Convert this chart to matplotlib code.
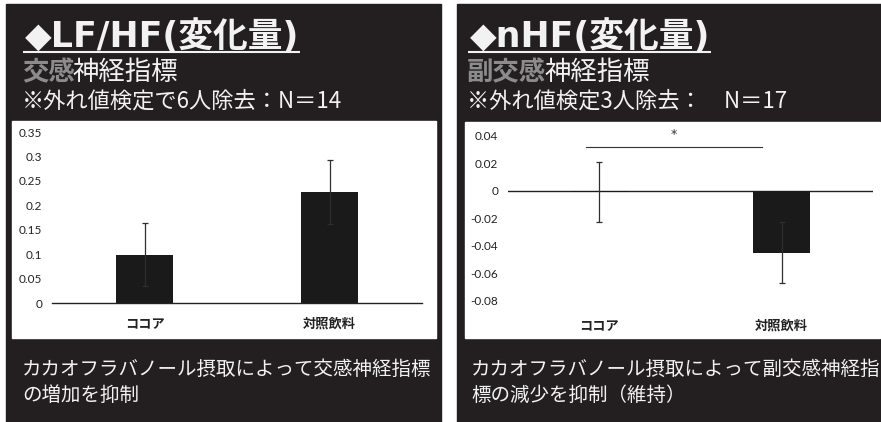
import matplotlib
matplotlib.use("Agg")
import matplotlib.pyplot as plt
from matplotlib.patches import Rectangle

plt.rcParams['font.family'] = ['Noto Sans CJK JP', 'DejaVu Sans']

BG = '#231f20'
FG = '#f2f2f2'
GRAY = '#8c8c8c'
BAR = '#1a1a1a'

W, H = 881, 422

# データ
categories = ['ココア', '対照飲料']

lfhf_mean = [0.099, 0.227]
lfhf_err = [0.065, 0.065]
lfhf_ticks = [0, 0.05, 0.1, 0.15, 0.2, 0.25, 0.3, 0.35]
lfhf_labels = ['0', '0.05', '0.1', '0.15', '0.2', '0.25', '0.3', '0.35']

nhf_mean = [-0.001, -0.045]
nhf_err = [0.022, 0.022]
nhf_ticks = [-0.08, -0.06, -0.04, -0.02, 0, 0.02, 0.04]
nhf_labels = ['-0.08', '-0.06', '-0.04', '-0.02', '0', '0.02', '0.04']

# 有意差の表示 (ココア vs 対照飲料)
sig_x = [-0.07, 0.89]
sig_y = 0.032
sig_label = '*'

fig = plt.figure(figsize=(W / 100, H / 100), dpi=100)
fig.patch.set_facecolor('white')

bg = fig.add_axes([0, 0, 1, 1])
bg.set_xlim(0, W)
bg.set_ylim(H, 0)
bg.axis('off')

# 黒いパネルと白いグラフ枠
bg.add_patch(Rectangle((6, 4), 435, 418, color=BG))
bg.add_patch(Rectangle((457, 4), 424, 418, color=BG))
bg.add_patch(Rectangle((12, 121), 424, 217, color='white'))
bg.add_patch(Rectangle((465, 122), 415, 216, color='white'))


def px_axes(x0, y0, x1, y1):
    return fig.add_axes([x0 / W, 1 - y1 / H, (x1 - x0) / W, (y1 - y0) / H])


def header(x, title, gray_part, rest, note):
    t = bg.text(x, 47, title, color=FG, fontsize=25, fontweight='bold', va='baseline',
                family=['DejaVu Sans', 'Noto Sans CJK JP'])
    fig.canvas.draw()
    bb = t.get_window_extent().transformed(bg.transData.inverted())
    bg.plot([bb.x0 - 2, bb.x1 + 1], [52, 52], color=FG, lw=1.5, solid_capstyle='butt')

    g = bg.text(x - 3, 80, gray_part, color=GRAY, fontsize=19, fontweight='bold', va='baseline')
    fig.canvas.draw()
    gb = g.get_window_extent().transformed(bg.transData.inverted())
    bg.text(gb.x1 - 2, 80, rest, color=FG, fontsize=19, va='baseline')

    bg.text(x - 3, 108, note, color=FG, fontsize=16, va='baseline')


header(25, '◆LF/HF(変化量)', '交感', '神経指標', '※外れ値検定で6人除去：N＝14')
header(470, '◆nHF(変化量)', '副交感', '神経指標', '※外れ値検定3人除去：　N＝17')

bg.text(22, 375, 'カカオフラバノール摂取によって交感神経指標', color=FG, fontsize=14, va='baseline')
bg.text(22, 401, 'の増加を抑制', color=FG, fontsize=14, va='baseline')
bg.text(471, 375, 'カカオフラバノール摂取によって副交感神経指', color=FG, fontsize=14, va='baseline')
bg.text(471, 401, '標の減少を抑制（維持）', color=FG, fontsize=14, va='baseline')

err_style = dict(ecolor='#2e2e2e', elinewidth=0.9, capsize=2, capthick=0.9)
xpos = range(len(categories))


def style_axes(ax, ticks, labels):
    ax.patch.set_alpha(0)
    ax.set_xlim(-0.5, 1.5)
    ax.set_xticks(list(xpos), categories, fontweight='bold', fontsize=9.5, color='#222222')
    ax.set_yticks(ticks, labels, fontfamily='Lato', fontsize=8.5, color='#222222')
    ax.tick_params(axis='both', length=0)
    ax.tick_params(axis='y', pad=7)
    for s in ['left', 'right', 'top']:
        ax.spines[s].set_visible(False)


# LF/HF
ax1 = px_axes(52, 132, 422, 303)
ax1.bar(xpos, lfhf_mean, width=0.31, color=BAR, yerr=lfhf_err, error_kw=err_style, zorder=2)
style_axes(ax1, lfhf_ticks, lfhf_labels)
ax1.set_ylim(0, 0.35)
ax1.tick_params(axis='x', pad=10)
ax1.spines['bottom'].set_color('#222222')
ax1.spines['bottom'].set_linewidth(1)

# nHF
ax2 = px_axes(508, 135.7, 873, 300.7)
ax2.bar(xpos, nhf_mean, width=0.31, color=BAR, yerr=nhf_err, error_kw=err_style, zorder=2)
style_axes(ax2, nhf_ticks, nhf_labels)
ax2.set_ylim(-0.08, 0.04)
ax2.spines['bottom'].set_visible(False)
ax2.axhline(0, color='#222222', lw=1, zorder=1)
ax2.tick_params(axis='x', pad=13)
ax2.plot(sig_x, [sig_y, sig_y], color='#333333', lw=0.8, clip_on=False)
ax2.text(sum(sig_x) / 2, sig_y + 0.004, sig_label, ha='center', va='bottom',
         fontsize=9, color='#333333', fontfamily='DejaVu Sans')

fig.savefig('out.png', dpi=100)
